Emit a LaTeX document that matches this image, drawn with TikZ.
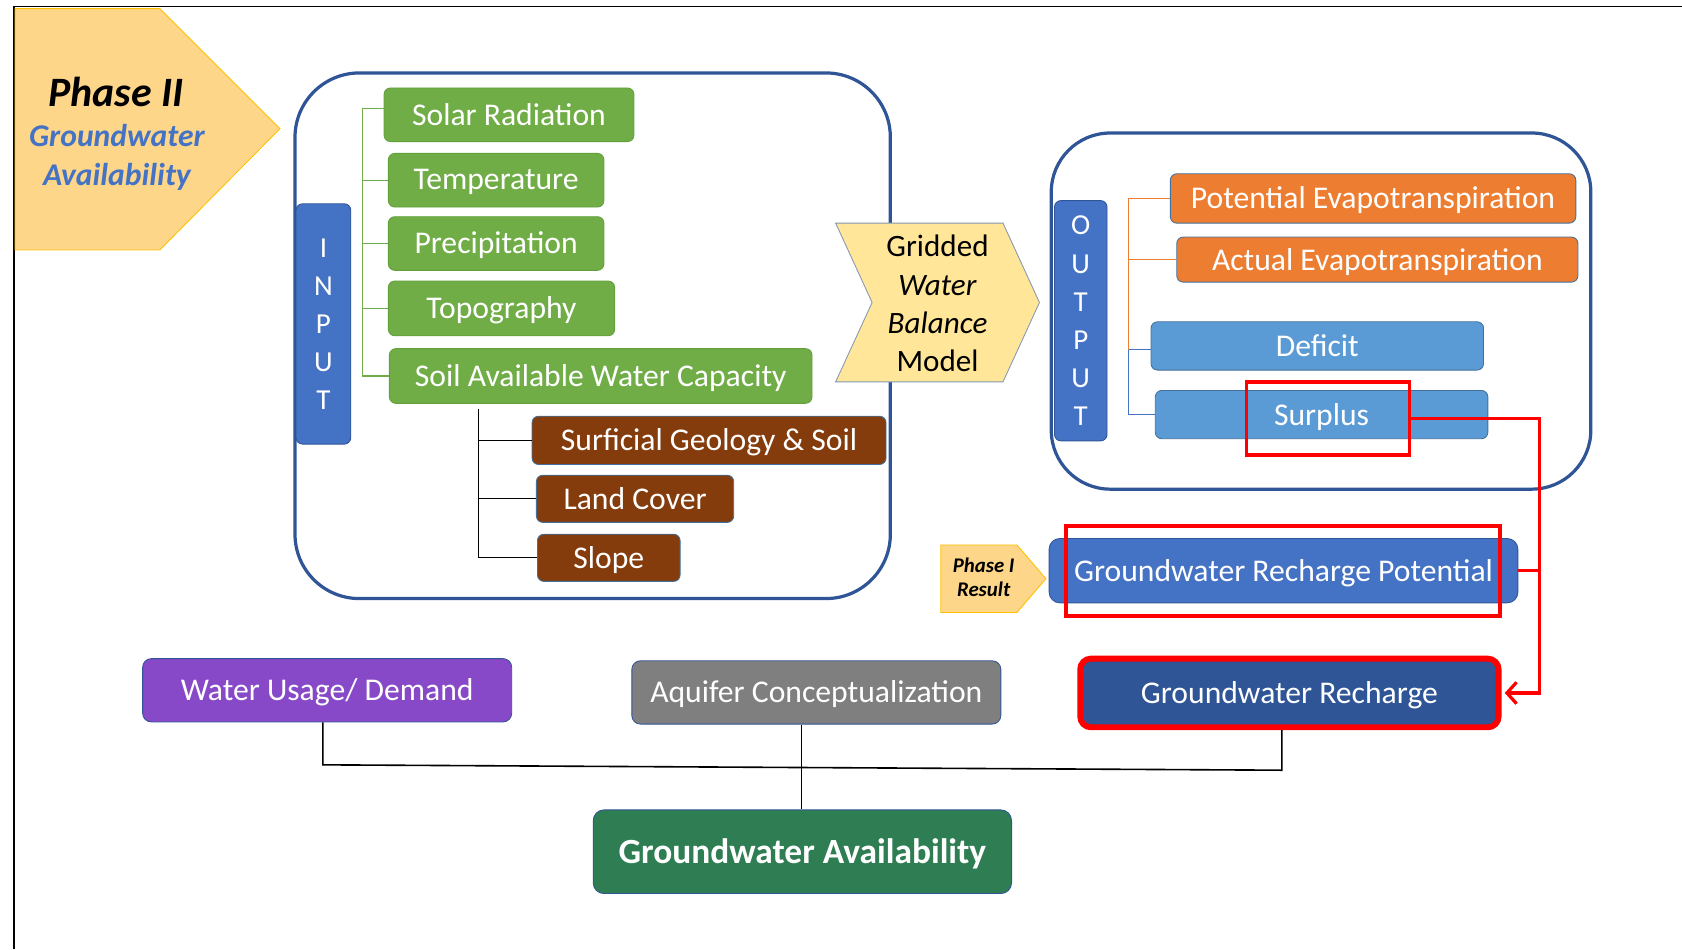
\documentclass[tikz,border=0pt]{standalone}
\usepackage{fontspec}
\setmainfont{Carlito}
\usetikzlibrary{arrows.meta}
\definecolor{cgreen}{HTML}{70AD47}
\definecolor{cgreenD}{HTML}{62A03C}
\definecolor{cbrown}{HTML}{843C0C}
\definecolor{corange}{HTML}{ED7D31}
\definecolor{clblue}{HTML}{5B9BD5}
\definecolor{cblue}{HTML}{4472C4}
\definecolor{cdblue}{HTML}{2F5597}
\definecolor{cedge}{HTML}{41719C}
\definecolor{cpurple}{HTML}{8749C7}
\definecolor{cgray}{HTML}{7F7F7F}
\definecolor{cdgreen}{HTML}{2F7D52}
\definecolor{cphase}{HTML}{FDD68A}
\definecolor{cphaseD}{HTML}{FFC000}
\definecolor{cmodel}{HTML}{FFE699}
\definecolor{cmodelD}{HTML}{8497B0}
\definecolor{cred}{HTML}{FF0000}
\newcommand\boxnode[7]{\node[#1, minimum width={(#5-#3)*1pt}, minimum height={(#6-#4)*1pt}] (#2) at ({(#3+#5)/2},{(#4+#6)/2}) {#7};}
\tikzset{
  box/.style={rounded corners=6pt, draw, line width=0.8pt, text=white, inner sep=0pt,
    font=\fontsize{29.5}{34}\selectfont, text depth=0.2ex},
  greenbox/.style={box, fill=cgreen, draw=cgreenD},
  brownbox/.style={box, fill=cbrown, draw=cedge},
  orangebox/.style={box, fill=corange, draw=cedge},
  lbluebox/.style={box, fill=clblue, draw=cedge},
  bluebox/.style={box, fill=cblue, draw=cdblue},
  container/.style={draw=cdblue, line width=3pt, rounded corners=60pt, inner sep=0pt},
  bar/.style={rounded corners=6pt, draw=cdblue, line width=0.8pt, fill=cblue, text=white, inner sep=0pt, font=\fontsize{27}{35.5}\selectfont, align=center},
  redbox/.style={draw=cred, line width=3.5pt, inner sep=0pt},
  redline/.style={draw=cred, line width=3pt},
  gline/.style={draw=cgreen, line width=1.2pt},
  oline/.style={draw=corange, line width=1.2pt},
  bline/.style={draw=cblue, line width=1.2pt},
  kline/.style={draw=black, line width=1.5pt},
}
\begin{document}
\begin{tikzpicture}[x=1pt,y=-1pt]
\useasboundingbox (0,0) rectangle (1568,885);
% frame
\draw[line width=1.5pt] (13,885) -- (13,6) -- (1568,6);
% Phase II
\fill[cphase, draw=cphaseD, line width=0.8pt] (14,8) -- (149,8) -- (261,120) -- (149,233) -- (14,233) -- cycle;
\node[font=\fontsize{39}{44}\selectfont\bfseries\itshape] (ph2) at (108,86) {Phase II};
\node[font=\fontsize{29.5}{36.5}\selectfont\bfseries\itshape, text=cblue, align=center] (ph2t) at (109,147) {Groundwater\\Availability};
% containers
\boxnode{container}{inbox}{275}{68}{830}{558}{}
\boxnode{container, rounded corners=55pt}{outbox}{980}{124}{1483}{456}{}
% input bar
\boxnode{bar}{inbar}{276}{190}{327}{414}{I\\N\\P\\U\\T}
% green inputs
\boxnode{greenbox}{solar}{358}{82}{591}{132}{Solar Radiation}
\boxnode{greenbox}{temp}{362}{143}{563}{193}{Temperature}
\boxnode{greenbox}{prec}{362}{202}{563}{252}{Precipitation}
\boxnode{greenbox}{topo}{362}{262}{573}{313}{Topography}
\boxnode{greenbox}{soil}{363}{325}{757}{376}{Soil Available Water Capacity}
% brown
\boxnode{brownbox}{geo}{496}{388}{826}{433}{Surficial Geology \& Soil}
\boxnode{brownbox}{land}{500}{443}{684}{487}{Land Cover}
\boxnode{brownbox}{slope}{501}{498}{634}{542}{Slope}
% green tree
\coordinate (gs) at (338,101);
\draw[gline] (gs) -- (gs -| solar.west);
\draw[gline] (gs) |- (soil.west);
\draw[gline] (gs |- temp.west) -- (temp.west);
\draw[gline] (gs |- prec.west) -- (prec.west);
\draw[gline] (gs |- topo.west) -- (topo.west);
% brown tree
\coordinate (bs) at (446,381);
\draw[kline, line width=1.2pt] (bs) |- (slope.west);
\draw[kline, line width=1.2pt] (bs |- geo.west) -- (geo.west);
\draw[kline, line width=1.2pt] (bs |- land.west) -- (land.west);
% model chevron
\fill[cmodel, draw=cmodelD, line width=0.8pt] (779,208) -- (935,208) -- (969,282) -- (935,356) -- (779,356) -- (813,282) -- cycle;
\node[font=\fontsize{29}{35.7}\selectfont, align=center] (model) at (874,283) {Gridded\\\textit{Water}\\\textit{Balance}\\Model};
% output bar
\boxnode{bar}{outbar}{983}{187}{1032}{411}{O\\U\\T\\P\\U\\T}
\boxnode{orangebox}{pet}{1091}{162}{1469}{208}{Potential Evapotranspiration}
\boxnode{orangebox}{aet}{1097}{221}{1471}{263}{Actual Evapotranspiration}
\boxnode{lbluebox}{def}{1073}{300}{1383}{345}{Deficit}
\boxnode{lbluebox}{sur}{1077}{364}{1387}{409}{Surplus}
% output tree
\coordinate (os) at (1052,185);
\coordinate (oj) at (1052,326);
\draw[oline] (os) -- (pet.west);
\draw[oline] (os) -- (oj);
\draw[oline] (os |- aet.west) -- (aet.west);
\draw[bline] (oj) -- (oj -| def.west);
\draw[bline] (oj) |- (sur.west);
% red surplus box
\boxnode{redbox}{sred}{1162}{356}{1314}{424}{}
% Phase I result
\fill[cphase, draw=cphaseD, line width=0.8pt] (877,508) -- (948,508) -- (975,539.5) -- (948,571) -- (877,571) -- cycle;
\node[font=\fontsize{19.4}{23}\selectfont\bfseries\itshape, align=center] (ph1) at (917,538) {Phase I\\Result};
% GRP
\boxnode{bluebox, rounded corners=10pt}{grp}{978}{502}{1415}{562}{Groundwater Recharge Potential}
\boxnode{redbox}{grpred}{994}{490}{1398}{574}{}
% GR
\boxnode{box, fill=cdblue, draw=cred, line width=5.5pt, rounded corners=10pt}{gr}{1007}{614}{1397}{678}{Groundwater Recharge}
% bottom
\boxnode{box, fill=cpurple, draw=cdblue, rounded corners=8pt}{wu}{133}{614}{477}{673}{Water Usage/ Demand}
\boxnode{box, fill=cgray, draw=cdblue, rounded corners=8pt}{aq}{589}{616}{933}{675}{Aquifer Conceptualization}
\boxnode{box, fill=cdgreen, draw=cdblue, rounded corners=10pt, font=\fontsize{33}{38}\selectfont\bfseries}{ga}{553}{755}{943}{833}{Groundwater Availability}
% red connectors
\coordinate (rv) at (1435,532);
\draw[redline] (sred.east) -| (rv);
\draw[redline] (grp.east) -- (rv);
\draw[redline, -{Straight Barb[length=9pt,width=20pt,line width=3pt]}] (rv) |- ([xshift=3pt]gr.east);
% black connectors
\coordinate (j1) at (301,713);
\coordinate (j2) at (747,715.5);
\coordinate (j3) at (1195,718);
\draw[kline] (j1 |- wu.south) -- (j1) -- (j3) -- (j3 |- gr.south);
\draw[kline] (j2 |- aq.south) -- (j2) -- (j2 |- ga.north);
\end{tikzpicture}
\end{document}
